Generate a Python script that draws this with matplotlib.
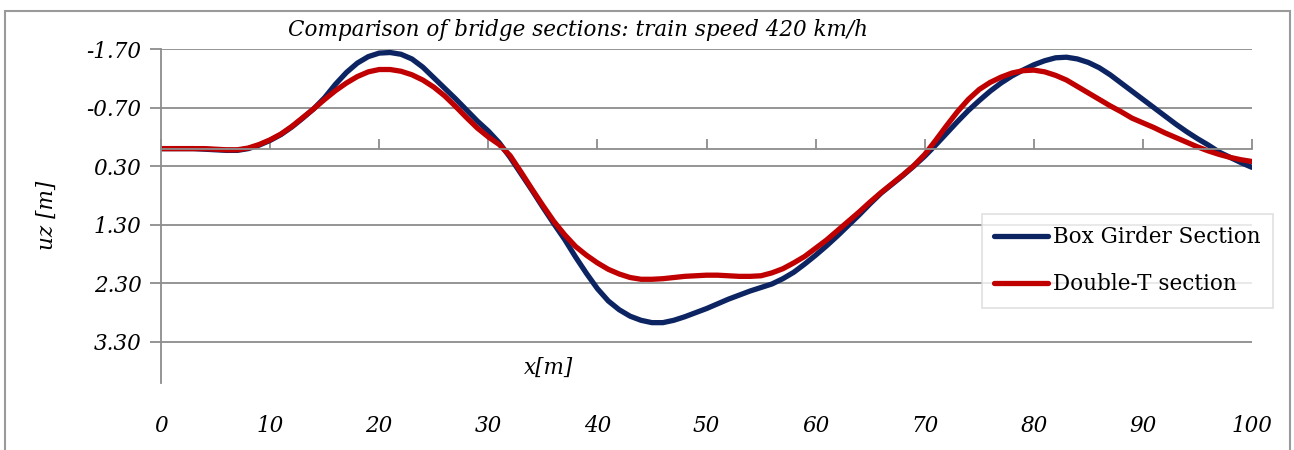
import matplotlib.pyplot as plt
from matplotlib.patches import Rectangle

# sample positions along the bridge [m]
x = list(range(0, 101))

box_girder = [0.00, 0.00, 0.00, 0.00, 0.01, 0.02, 0.03, 0.03, 0.00, -0.06,
              -0.14, -0.24, -0.37, -0.52, -0.68, -0.87, -1.10, -1.30, -1.46, -1.57,
              -1.63, -1.64, -1.61, -1.53, -1.39, -1.21, -1.03, -0.85, -0.66, -0.47,
              -0.30, -0.10, 0.15, 0.43, 0.71, 1.00, 1.28, 1.55, 1.85, 2.13,
              2.39, 2.60, 2.75, 2.86, 2.93, 2.97, 2.97, 2.93, 2.87, 2.80,
              2.73, 2.65, 2.57, 2.50, 2.43, 2.37, 2.31, 2.22, 2.11, 1.97,
              1.82, 1.66, 1.49, 1.31, 1.13, 0.94, 0.76, 0.61, 0.46, 0.30,
              0.13, -0.06, -0.26, -0.46, -0.65, -0.82, -0.98, -1.12, -1.24, -1.34,
              -1.43, -1.50, -1.55, -1.56, -1.53, -1.47, -1.38, -1.26, -1.12, -0.98,
              -0.84, -0.70, -0.56, -0.42, -0.29, -0.17, -0.06, 0.06, 0.15, 0.24,
              0.32]

double_t = [0.00, 0.00, 0.00, 0.00, 0.00, 0.01, 0.02, 0.02, -0.01, -0.07,
            -0.15, -0.25, -0.38, -0.53, -0.68, -0.84, -0.99, -1.12, -1.23, -1.31,
            -1.35, -1.35, -1.32, -1.26, -1.17, -1.05, -0.90, -0.72, -0.53, -0.35,
            -0.20, -0.07, 0.12, 0.40, 0.69, 0.97, 1.24, 1.47, 1.67, 1.82,
            1.95, 2.06, 2.14, 2.20, 2.23, 2.23, 2.22, 2.20, 2.18, 2.17,
            2.16, 2.16, 2.17, 2.18, 2.18, 2.17, 2.12, 2.05, 1.95, 1.84,
            1.70, 1.56, 1.40, 1.24, 1.08, 0.91, 0.75, 0.60, 0.45, 0.29,
            0.10, -0.14, -0.39, -0.63, -0.84, -1.01, -1.13, -1.22, -1.29, -1.33,
            -1.34, -1.31, -1.25, -1.17, -1.06, -0.95, -0.84, -0.73, -0.63, -0.52,
            -0.44, -0.36, -0.27, -0.19, -0.11, -0.03, 0.04, 0.10, 0.15, 0.19,
            0.22]

labels = ['Box Girder Section', 'Double-T section']
yticks = [-1.70, -0.70, 0.30, 1.30, 2.30, 3.30]
xticks = list(range(0, 101, 10))

plt.rcParams['font.family'] = ['DejaVu Serif']
grey = '#8c8c8c'
fs = 15.5

fig = plt.figure(figsize=(12.94, 4.5), dpi=100)
# outer chart border
fig.patches.append(Rectangle((5 / 1294, -0.02), 1285 / 1294, 1.02 - 11 / 450,
                             transform=fig.transFigure, fill=False,
                             edgecolor='#9a9a9a', linewidth=1.5))

ax = fig.add_axes([161 / 1294, 67 / 450, 1091 / 1294, 334 / 450])
ax.plot(x, box_girder, color='#0c2461', linewidth=3.8, solid_capstyle='round', label=labels[0])
ax.plot(x, double_t, color='#c00000', linewidth=3.8, solid_capstyle='round', label=labels[1])

ax.set_xlim(0, 100)
ax.set_ylim(4.0, -1.70)

ax.set_yticks(yticks)
ax.set_yticklabels(['%.2f' % v for v in yticks], fontsize=fs, style='italic')
ax.grid(axis='y', color=grey, linewidth=1.3)
ax.tick_params(axis='y', length=8, width=1.3, color=grey, pad=6)

# x axis line at uz = 0, ticks pointing up
for s in ['top', 'right']:
    ax.spines[s].set_visible(False)
ax.spines['left'].set_color(grey)
ax.spines['left'].set_linewidth(1.3)
ax.spines['bottom'].set_position(('data', 0))
ax.spines['bottom'].set_color(grey)
ax.spines['bottom'].set_linewidth(1.3)
ax.set_xticks(xticks)
ax.tick_params(axis='x', direction='in', length=7, width=1.3, color=grey, labelbottom=False)

# tick labels of x at the bottom
sec = ax.secondary_xaxis(0)
sec.set_xticks(xticks)
sec.set_xticklabels([str(v) for v in xticks], fontsize=fs, style='italic')
sec.tick_params(length=0, pad=23)
sec.spines['bottom'].set_visible(False)

ax.text(0.355, 0.045, 'x[m]', transform=ax.transAxes, fontsize=fs, style='italic',
        ha='center', va='center')
fig.text(47 / 1294, 1 - 215 / 450, 'uz [m]', rotation=90, fontsize=fs, style='italic',
         ha='center', va='center')
fig.text(578 / 1294, 1 - 30 / 450, 'Comparison of bridge sections: train speed 420 km/h',
         fontsize=fs, style='italic', ha='center', va='center')

leg = fig.legend(loc='upper left', bbox_to_anchor=(982 / 1294, 1 - 214 / 450),
                 fontsize=fs, frameon=True, fancybox=False, borderaxespad=0,
                 handlelength=2.5, handletextpad=0.2, labelspacing=1.15,
                 borderpad=0.58)
leg.get_frame().set_edgecolor('#d9d9d9')
leg.get_frame().set_linewidth(1.2)

plt.savefig('out.png')
